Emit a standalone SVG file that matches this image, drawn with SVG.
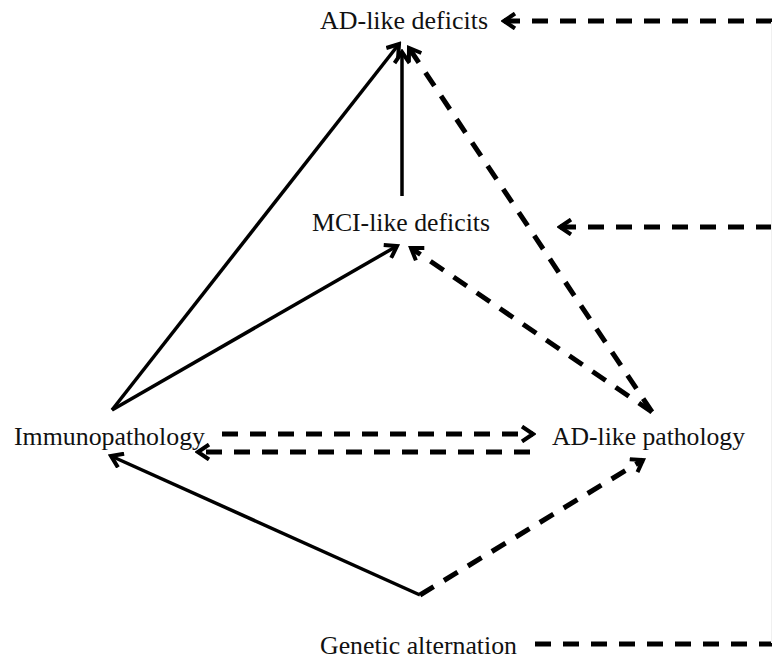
<svg xmlns="http://www.w3.org/2000/svg" width="772" height="664" viewBox="0 0 772 664">
<style>
.lbl{font-family:"Liberation Serif","Times New Roman",serif;font-size:25px;fill:#111}
.s{stroke:#000;stroke-width:3.5;fill:none}
.d{stroke:#000;stroke-width:5;fill:none;stroke-dasharray:16 12}
</style>
<defs>
<marker id="ah" viewBox="0 0 18 18" refX="15" refY="9" markerWidth="18" markerHeight="18" markerUnits="userSpaceOnUse" orient="auto">
<path d="M4,1.5 L15,9 L4,16.5" fill="none" stroke="#000" stroke-width="4" stroke-dasharray="none" stroke-linejoin="miter"/>
</marker>
</defs>
<rect width="772" height="664" fill="#fff"/>
<g id="connectors">
<line class="s" x1="112" y1="410" x2="399" y2="44" marker-end="url(#ah)"/>
<line class="s" x1="112" y1="410" x2="397" y2="246" marker-end="url(#ah)"/>
<line class="s" x1="402" y1="196" x2="402" y2="52" marker-end="url(#ah)"/>
<line class="s" x1="420" y1="595" x2="111" y2="456" marker-end="url(#ah)"/>
<line class="d" x1="420" y1="595" x2="643" y2="460" marker-end="url(#ah)"/>
<line class="d" x1="652" y1="412" x2="409" y2="48" marker-end="url(#ah)"/>
<line class="d" x1="652" y1="412" x2="411" y2="248" marker-end="url(#ah)"/>
<line class="d" x1="222" y1="434" x2="533" y2="434" marker-end="url(#ah)"/>
<line class="d" x1="530" y1="452" x2="198" y2="452" marker-end="url(#ah)"/>
<line class="d" x1="772" y1="21" x2="504" y2="21" marker-end="url(#ah)"/>
<line class="d" x1="772" y1="227" x2="560" y2="227" marker-end="url(#ah)"/>
<line class="d" x1="535" y1="644" x2="772" y2="644"/>
<line x1="771.5" y1="22" x2="771.5" y2="643" stroke="#f0f0f0" stroke-width="1"/>
</g>
<g id="ad-deficits"><text class="lbl" x="320" y="29" textLength="168" lengthAdjust="spacingAndGlyphs">AD-like deficits</text></g>
<g id="mci-deficits"><text class="lbl" x="312" y="231" textLength="178" lengthAdjust="spacingAndGlyphs">MCI-like deficits</text></g>
<g id="immunopathology"><text class="lbl" x="14" y="445" textLength="191" lengthAdjust="spacingAndGlyphs">Immunopathology</text></g>
<g id="ad-pathology"><text class="lbl" x="552" y="445" textLength="193" lengthAdjust="spacingAndGlyphs">AD-like pathology</text></g>
<g id="genetic"><text class="lbl" x="320" y="654" textLength="197" lengthAdjust="spacingAndGlyphs">Genetic alternation</text></g>
</svg>
